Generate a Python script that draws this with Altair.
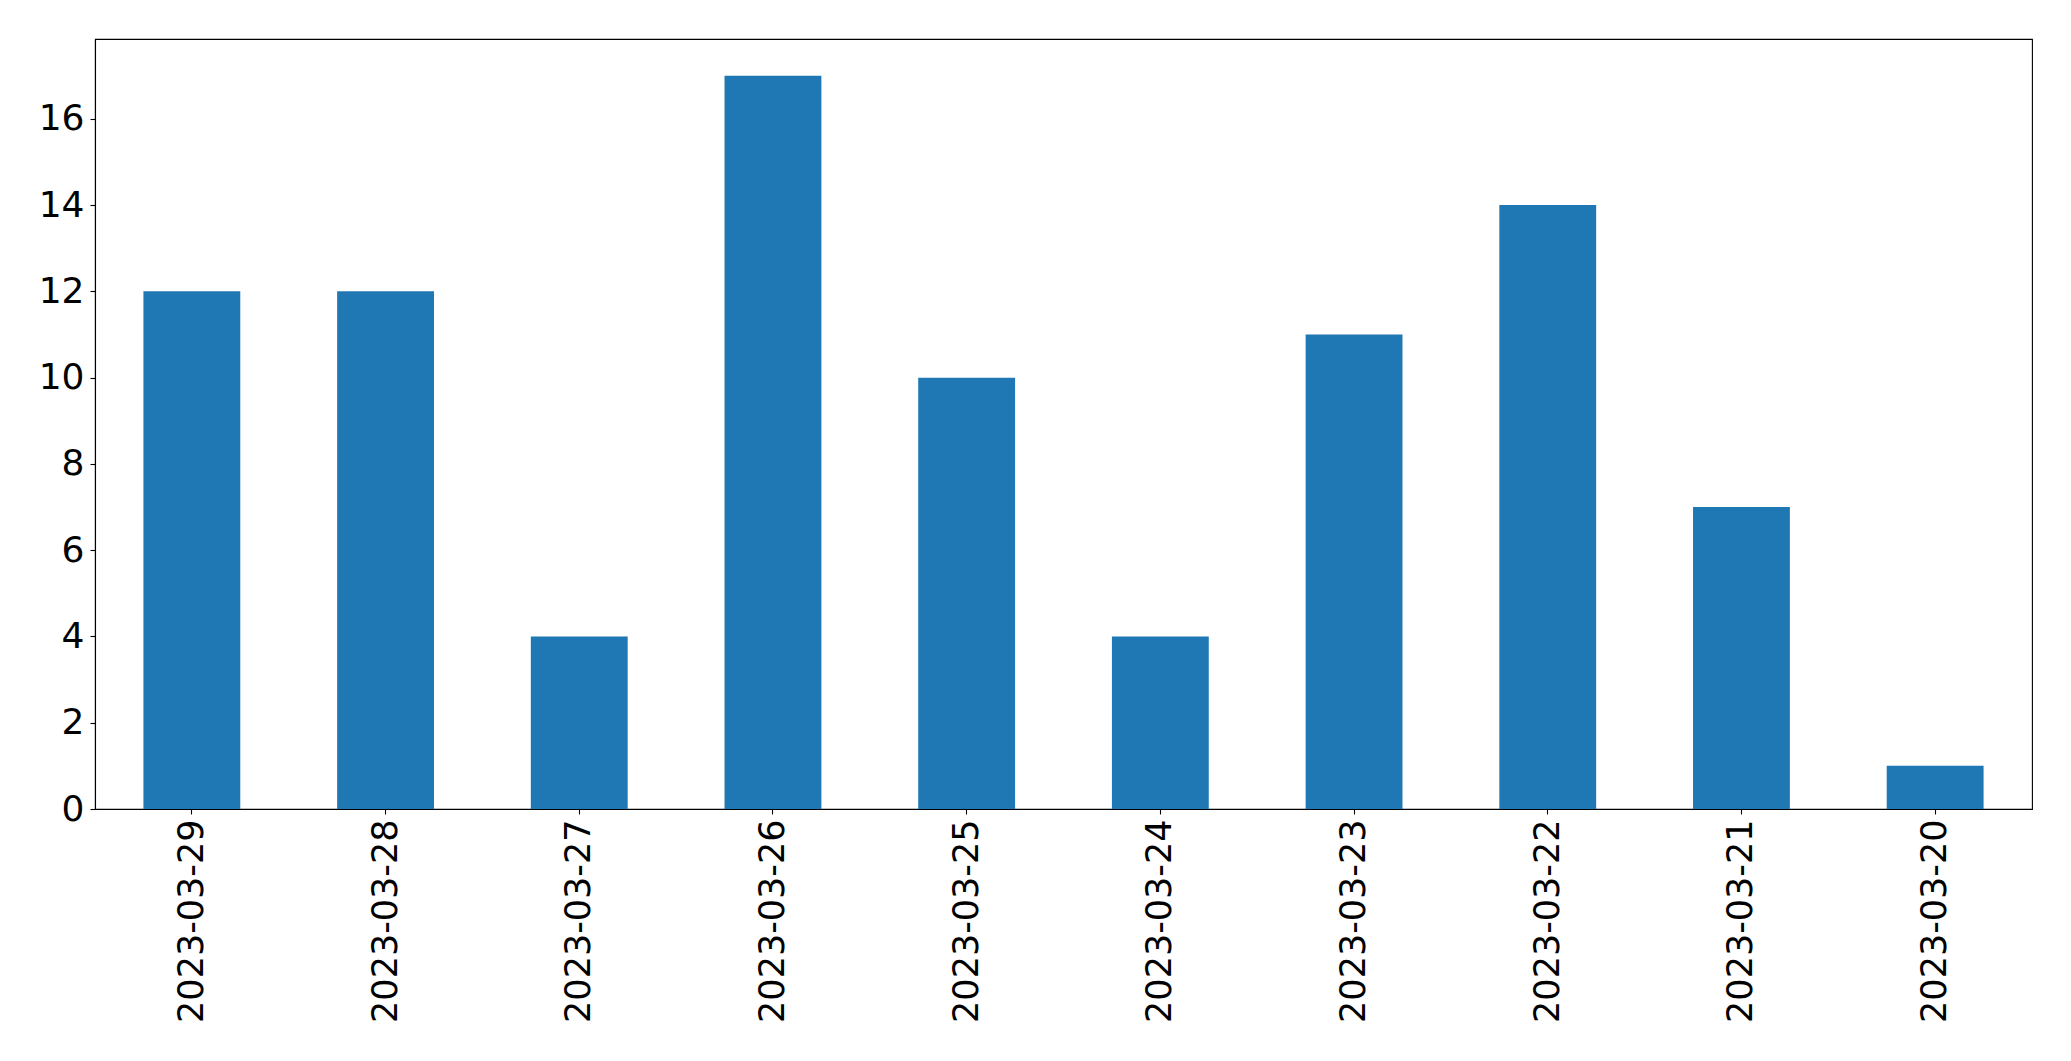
import altair as alt
import pandas as pd

dates = ["2023-03-29", "2023-03-28", "2023-03-27", "2023-03-26", "2023-03-25",
         "2023-03-24", "2023-03-23", "2023-03-22", "2023-03-21", "2023-03-20"]
counts = [12, 12, 4, 17, 10, 4, 11, 14, 7, 1]
y_ticks = [0, 2, 4, 6, 8, 10, 12, 14, 16]

df = pd.DataFrame({"date": dates, "count": counts})

font = "DejaVu Sans"

chart = alt.Chart(df).mark_bar(color="#1f77b4").encode(
    x=alt.X("date:N", sort=dates, title=None,
            scale=alt.Scale(paddingInner=0.5, paddingOuter=0.25),
            axis=alt.Axis(labelAngle=270, labelFontSize=35, labelFont=font,
                          labelColor="black", tickColor="black", tickSize=5,
                          tickWidth=1.1, labelPadding=5, domainColor="black",
                          domainWidth=1.1, labelLimit=400)),
    y=alt.Y("count:Q", title=None,
            scale=alt.Scale(domain=[0, 17.85], nice=False),
            axis=alt.Axis(values=y_ticks, grid=False, labelFontSize=36, labelFont=font,
                          labelColor="black", tickColor="black", tickSize=5,
                          tickWidth=1.1, labelPadding=6, domainColor="black",
                          domainWidth=1.1)),
).properties(
    width=1937, height=770,
    background="white",
    autosize=alt.AutoSizeParams(type="none"),
    padding={"left": 87, "top": 31, "right": 30, "bottom": 240},
).configure_view(
    stroke="black", strokeWidth=1.1
)

chart.save("out.html", embed_options={"renderer": "svg", "actions": False})
